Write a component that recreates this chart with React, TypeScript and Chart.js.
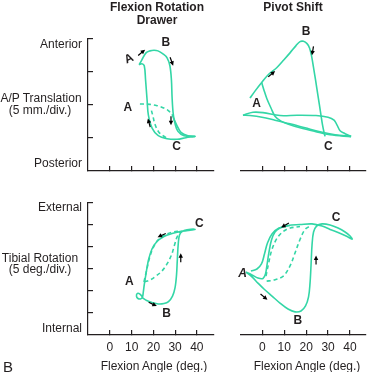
import React, { useEffect, useRef } from 'react';
import { Chart, registerables } from 'chart.js';

Chart.register(...registerables);

type P = [number, number];

// ---------- tick values ----------
const xTickValues = [0, 10, 20, 30, 40];
const apTickValues = [1, 2, 3, 4];
const rotTickValues = [1, 2, 3, 4, 5, 6];

// ---------- Flexion Rotation Drawer: A/P translation (divisions) ----------
const frdApLoop: P[] = [
  [13.4, 3.22], [14.7, 3.37], [16.6, 3.58], [18.4, 3.64], [20.3, 3.66], [22.1, 3.64],
  [24.4, 3.55], [26.3, 3.43], [27.6, 3.19], [28.3, 2.76], [28.6, 2.24], [29.1, 1.75],
  [29.9, 1.45], [31.3, 1.2], [34.1, 1.07], [39.2, 1.05], [35.0, 1.01], [30.9, 0.96],
  [26.3, 0.98], [22.1, 1.08], [19.4, 1.3], [17.7, 1.69], [17.1, 2.15], [16.4, 2.76],
  [15.8, 3.19], [14.7, 3.25], [13.4, 3.22],
];
const frdApReturn: P[] = [
  [28.6, 1.72], [29.5, 1.57], [30.9, 1.37], [32.7, 1.17], [35.9, 1.07], [39.2, 1.05],
];
const frdApDashA: P[] = [
  [13.8, 2.03], [18.4, 2.02], [21.7, 1.98], [24.4, 1.92], [26.7, 1.84], [28.6, 1.72],
];
const frdApDashB: P[] = [
  [25.8, 1.01], [22.6, 1.17], [20.7, 1.42], [19.8, 1.66], [18.9, 1.88],
];

// ---------- Pivot Shift: A/P translation ----------
const psApMain: P[] = [
  [-5.62, 2.21], [-3.33, 2.42], [-0.27, 2.68], [2.6, 2.91], [6.58, 3.13], [9.45, 3.34],
  [12.65, 3.58], [15.39, 3.8], [17.21, 3.92], [18.81, 3.93], [20.41, 3.86], [21.55, 3.73],
  [22.47, 3.49], [23.38, 3.13], [24.29, 2.76], [25.43, 2.27], [26.58, 1.78], [27.49, 1.39],
  [28.17, 1.17], [28.63, 1.05],
];
const psApDiag: P[] = [
  [-0.27, 2.68], [0.78, 2.45], [2.15, 2.18], [3.97, 1.91], [5.8, 1.66], [8.54, 1.51],
  [12.65, 1.4], [17.21, 1.31], [24.06, 1.2], [30.91, 1.1], [40.5, 1.04],
];
const psApUpper: P[] = [
  [-8.81, 1.69], [-4.25, 1.78], [0.32, 1.77], [8.08, 1.68], [15.84, 1.69], [24.52, 1.68],
  [29.99, 1.63], [32.74, 1.54], [34.11, 1.39], [35.48, 1.22], [37.76, 1.13], [40.5, 1.05],
];
const psApLower: P[] = [
  [-8.81, 1.69], [-5.62, 1.68], [-0.14, 1.63], [5.8, 1.54], [12.65, 1.43], [19.5, 1.31],
  [26.35, 1.19], [33.2, 1.1], [40.5, 1.05],
];

// ---------- Flexion Rotation Drawer: tibial rotation ----------
const frdRotLoop: P[] = [
  [15.07, 1.68], [16.91, 1.57], [19.35, 1.48], [22.26, 1.41], [24.88, 1.43], [26.96, 1.52],
  [28.8, 1.77], [29.95, 2.14], [30.65, 2.73], [31.01, 3.41], [31.47, 4.18], [32.03, 4.55],
  [33.18, 4.7], [35.48, 4.78], [39.17, 4.8], [35.94, 4.75], [32.26, 4.7], [28.57, 4.61],
  [24.88, 4.48], [21.66, 4.25], [19.35, 3.91], [17.74, 3.41], [16.73, 2.86], [15.9, 2.36],
  [15.35, 1.95], [14.98, 1.73], [14.06, 1.64], [12.9, 1.66], [12.21, 1.77], [12.67, 1.89],
  [13.82, 1.86], [14.75, 1.75], [15.07, 1.68],
];
const frdRotDashOuter: P[] = [
  [15.67, 2.41], [16.82, 2.91], [18.2, 3.5], [19.82, 3.95], [22.12, 4.32], [25.35, 4.55],
  [29.03, 4.68], [32.26, 4.73],
];
const frdRotDashInner: P[] = [
  [15.9, 2.41], [18.43, 2.5], [21.2, 2.68], [23.96, 2.91], [26.27, 3.23], [28.34, 3.64],
  [29.72, 4.09], [30.88, 4.45], [32.26, 4.68],
];

// ---------- Pivot Shift: tibial rotation ----------
const psRotLoop: P[] = [
  [-7.44, 2.86], [-4.7, 2.64], [-1.96, 2.36], [0.78, 2.09], [4.43, 1.77], [8.08, 1.45],
  [11.74, 1.18], [14.93, 1.05], [17.67, 1.09], [19.73, 1.32], [21.1, 1.73], [21.78, 2.36],
  [22.24, 3.18], [22.69, 4.09], [23.38, 4.68], [24.75, 4.95], [27.26, 5.05], [30.91, 5.0],
  [34.57, 4.86], [37.76, 4.68], [40.05, 4.5], [40.96, 4.36], [38.22, 4.5], [34.57, 4.66],
  [30.91, 4.8], [27.26, 4.95], [22.69, 5.05], [17.21, 5.02], [11.74, 4.98], [8.08, 4.86],
  [5.8, 4.68], [4.2, 4.32], [3.06, 3.77], [2.15, 3.18], [1.46, 2.77], [0.32, 2.57],
  [-1.96, 2.59], [-4.7, 2.73], [-7.44, 2.86],
];
const psRotInner: P[] = [
  [-5.16, 2.91], [-2.42, 3.0], [-0.37, 3.23], [1.0, 3.68], [2.37, 4.18], [4.43, 4.59],
  [7.63, 4.86], [12.65, 4.98],
];
const psRotDashOuter: P[] = [
  [2.01, 2.45], [5.02, 2.49], [9.59, 2.68], [12.65, 3.14], [14.93, 3.73], [17.21, 4.34],
  [19.5, 4.8], [21.78, 4.95],
];
const psRotDashInner: P[] = [
  [1.69, 2.68], [2.83, 3.23], [4.2, 3.82], [6.26, 4.32], [8.77, 4.64], [11.96, 4.84],
  [17.21, 4.93],
];

// ---------- point labels [text, x, y, rotation deg, italic] ----------
type Lbl = [string, number, number, number?, boolean?];
const frdApLabels: Lbl[] = [['A', 8.8, 3.4, -25], ['B', 25.7, 3.88], ['A', 8.2, 1.91], ['C', 30.7, 0.73]];
const psApLabels: Lbl[] = [['B', 19.95, 4.23], ['A', -2.56, 2.03], ['C', 30.14, 0.73]];
const frdRotLabels: Lbl[] = [['A', 8.9, 2.41], ['B', 26.1, 0.99], ['C', 41.2, 5.06]];
const psRotLabels: Lbl[] = [['A', -8.95, 2.8, 0, true], ['B', 16.16, 0.64], ['C', 33.65, 5.33]];

// ---------- direction arrows [x, y, screen angle deg] ----------
type Arw = [number, number, number];
const frdApArrows: Arw[] = [[14.6, 3.59, -40], [28.4, 3.32, 70], [18.0, 1.46, -105], [28.1, 1.52, 90]];
const psApArrows: Arw[] = [[4.29, 2.94, -40], [23.0, 3.64, 100]];
const frdRotArrows: Arw[] = [[23.8, 4.53, 155], [19.7, 1.4, 25], [32.6, 3.51, -90]];
const psRotArrows: Arw[] = [[10.37, 4.99, 150], [0.78, 1.73, 40], [24.52, 3.41, -90]];

// ---------- styling ----------
const LINE = '#33d6a6';
const INK = '#231f20';
const FONT = 'Arial, "Liberation Sans", Helvetica, sans-serif';
const W = 369;
const H = 372;
const X_LABEL_BAND = 30;

interface Series { pts: P[]; dashed?: boolean }
interface Panel {
  area: { l: number; t: number; r: number; b: number };
  xr: [number, number];
  yr: [number, number];
  yTicks: number[];
  showY: boolean;
  showXLabels: boolean;
  series: Series[];
  labels: Lbl[];
  arrows: Arw[];
}

const panels: Panel[] = [
  {
    area: { l: 88, t: 39, r: 214, b: 171 }, xr: [-10.1, 47.9], yr: [0, 4], yTicks: apTickValues,
    showY: true, showXLabels: false,
    series: [{ pts: frdApLoop }, { pts: frdApReturn }, { pts: frdApDashA, dashed: true }, { pts: frdApDashB, dashed: true }],
    labels: frdApLabels, arrows: frdApArrows,
  },
  {
    area: { l: 241, t: 39, r: 366, b: 171 }, xr: [-9.7, 47.3], yr: [0, 4], yTicks: apTickValues,
    showY: false, showXLabels: false,
    series: [{ pts: psApMain }, { pts: psApDiag }, { pts: psApUpper }, { pts: psApLower }],
    labels: psApLabels, arrows: psApArrows,
  },
  {
    area: { l: 88, t: 203, r: 214, b: 335 }, xr: [-10.1, 47.9], yr: [0, 6], yTicks: rotTickValues,
    showY: true, showXLabels: true,
    series: [{ pts: frdRotLoop }, { pts: frdRotDashOuter, dashed: true }, { pts: frdRotDashInner, dashed: true }],
    labels: frdRotLabels, arrows: frdRotArrows,
  },
  {
    area: { l: 241, t: 203, r: 366, b: 335 }, xr: [-9.7, 47.3], yr: [0, 6], yTicks: rotTickValues,
    showY: false, showXLabels: true,
    series: [{ pts: psRotLoop }, { pts: psRotInner }, { pts: psRotDashOuter, dashed: true }, { pts: psRotDashInner, dashed: true }],
    labels: psRotLabels, arrows: psRotArrows,
  },
];

const marksPlugin = {
  id: 'marks',
  afterDatasetsDraw(chart: any) {
    const panel: Panel = chart.options.plugins.marks.panel;
    const xs = chart.scales.x;
    const ys = chart.scales.y;
    const ctx: CanvasRenderingContext2D = chart.ctx;
    ctx.save();
    // arrows
    ctx.strokeStyle = '#000';
    ctx.fillStyle = '#000';
    ctx.lineWidth = 1.2;
    for (const [x, y, ang] of panel.arrows) {
      const px = xs.getPixelForValue(x);
      const py = ys.getPixelForValue(y);
      const a = (ang * Math.PI) / 180;
      const dx = Math.cos(a);
      const dy = Math.sin(a);
      const len = 9;
      const tx = px - (dx * len) / 2;
      const ty = py - (dy * len) / 2;
      const hx = px + (dx * len) / 2;
      const hy = py + (dy * len) / 2;
      ctx.beginPath();
      ctx.moveTo(tx, ty);
      ctx.lineTo(hx - dx * 3, hy - dy * 3);
      ctx.stroke();
      ctx.beginPath();
      ctx.moveTo(hx, hy);
      ctx.lineTo(hx - dx * 4.5 - dy * 2.2, hy - dy * 4.5 + dx * 2.2);
      ctx.lineTo(hx - dx * 4.5 + dy * 2.2, hy - dy * 4.5 - dx * 2.2);
      ctx.closePath();
      ctx.fill();
    }
    // labels
    ctx.fillStyle = INK;
    ctx.textAlign = 'center';
    ctx.textBaseline = 'middle';
    for (const [t, x, y, rot, italic] of panel.labels) {
      const px = xs.getPixelForValue(x);
      const py = ys.getPixelForValue(y);
      ctx.save();
      ctx.translate(px, py);
      if (rot) ctx.rotate((rot * Math.PI) / 180);
      ctx.font = `${italic ? 'italic ' : ''}bold 12px ${FONT}`;
      ctx.fillText(t, 0, 0);
      ctx.restore();
    }
    ctx.restore();
  },
};

function makeChart(canvas: HTMLCanvasElement, panel: Panel) {
  const { area } = panel;
  const band = panel.showXLabels ? X_LABEL_BAND : 0;
  return new Chart(canvas, {
    type: 'scatter',
    data: {
      datasets: panel.series.map((s) => ({
        data: s.pts.map(([x, y]) => ({ x, y })),
        showLine: true,
        borderColor: LINE,
        backgroundColor: LINE,
        borderWidth: 1.6,
        borderDash: s.dashed ? [4, 3] : [],
        pointRadius: 0,
        tension: 0.35,
        fill: false,
        clip: false,
      })),
    },
    options: {
      animation: false,
      responsive: false,
      devicePixelRatio: 1,
      events: [],
      layout: { padding: { left: area.l, top: area.t, right: W - area.r, bottom: H - area.b - band } },
      plugins: {
        legend: { display: false },
        tooltip: { enabled: false },
        marks: { panel },
      } as any,
      scales: {
        x: {
          type: 'linear',
          position: 'bottom',
          min: panel.xr[0],
          max: panel.xr[1],
          afterFit: (s: any) => { s.height = band; },
          afterBuildTicks: (s: any) => { s.ticks = xTickValues.map((v) => ({ value: v })); },
          border: { display: true, color: INK, width: 1.2 },
          grid: { display: true, drawOnChartArea: false, drawTicks: true, tickLength: -5, color: INK, lineWidth: 1.2 },
          ticks: {
            display: panel.showXLabels,
            autoSkip: false,
            padding: 10,
            color: INK,
            maxRotation: 0,
            font: { family: FONT, size: 12 },
            callback: (v: any) => String(v),
          },
        },
        y: {
          type: 'linear',
          position: 'left',
          display: panel.showY,
          min: panel.yr[0],
          max: panel.yr[1],
          afterFit: (s: any) => { s.width = 0; },
          afterBuildTicks: (s: any) => { s.ticks = panel.yTicks.map((v) => ({ value: v })); },
          border: { display: true, color: INK, width: 1.2 },
          grid: { display: true, drawOnChartArea: false, drawTicks: true, tickLength: -5, color: INK, lineWidth: 1.2 },
          ticks: { display: false },
        },
      },
    } as any,
    plugins: [marksPlugin],
  });
}

const Txt = ({ x, y, children, anchor = 'c', bold = false, size = 12 }: any) => (
  <div
    style={{
      position: 'absolute',
      left: x,
      top: y,
      transform: anchor === 'r' ? 'translate(-100%, -50%)' : anchor === 'l' ? 'translate(0, -50%)' : 'translate(-50%, -50%)',
      whiteSpace: 'nowrap',
      fontFamily: FONT,
      fontSize: size,
      fontWeight: bold ? 700 : 400,
      lineHeight: 1,
      color: INK,
    }}
  >
    {children}
  </div>
);

export default function App() {
  const refs = useRef<(HTMLCanvasElement | null)[]>([]);
  useEffect(() => {
    const charts = panels.map((p, i) => makeChart(refs.current[i] as HTMLCanvasElement, p));
    return () => charts.forEach((c) => c.destroy());
  }, []);
  return (
    <div style={{ position: 'fixed', left: 0, top: 0, width: W, height: H, background: '#fff', overflow: 'hidden' }}>
      {panels.map((_, i) => (
        <canvas
          key={i}
          ref={(el) => { refs.current[i] = el; }}
          width={W}
          height={H}
          style={{ position: 'absolute', left: 0, top: 0, width: W, height: H }}
        />
      ))}
      <Txt x={157} y={7} bold>Flexion Rotation</Txt>
      <Txt x={157} y={20} bold>Drawer</Txt>
      <Txt x={293} y={7} bold>Pivot Shift</Txt>

      <Txt x={82} y={44} anchor="r">Anterior</Txt>
      <Txt x={41} y={98} >A/P Translation</Txt>
      <Txt x={40} y={110}>(5 mm./div.)</Txt>
      <Txt x={82} y={163} anchor="r">Posterior</Txt>

      <Txt x={82} y={207} anchor="r">External</Txt>
      <Txt x={40} y={258}>Tibial Rotation</Txt>
      <Txt x={40} y={269}>(5 deg./div.)</Txt>
      <Txt x={82} y={328} anchor="r">Internal</Txt>

      <Txt x={154} y={366}>Flexion Angle (deg.)</Txt>
      <Txt x={307} y={366}>Flexion Angle (deg.)</Txt>
      <Txt x={3} y={366} anchor="l" size={15}>B</Txt>
    </div>
  );
}
